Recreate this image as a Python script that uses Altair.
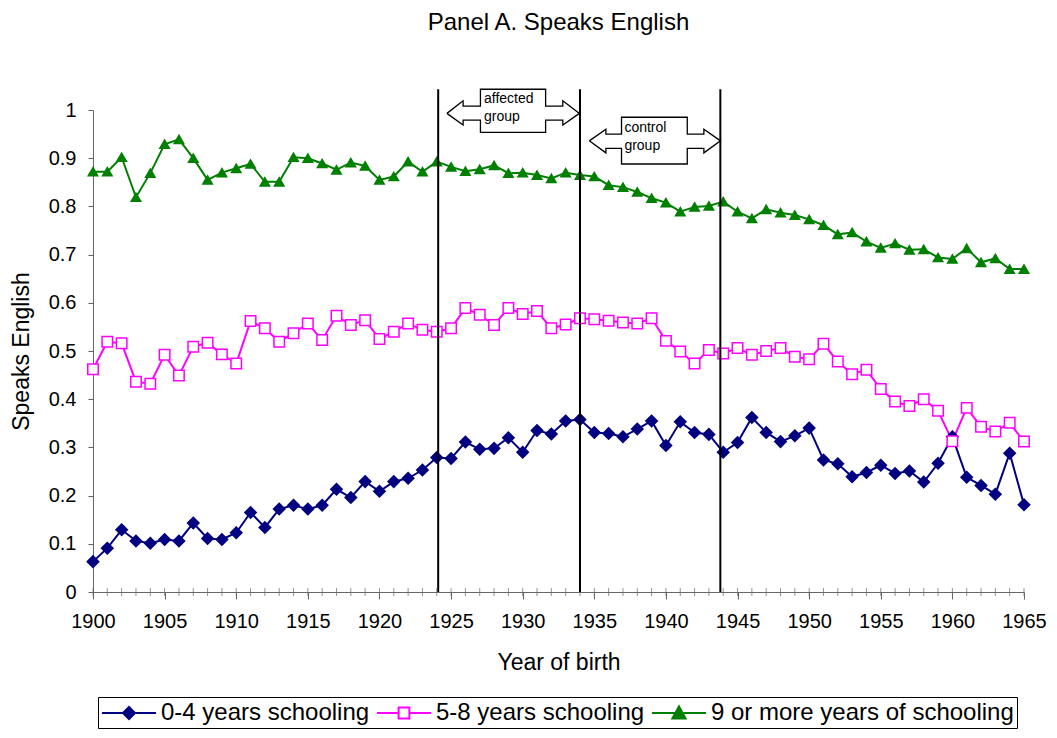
import altair as alt
import pandas as pd

years = list(range(1900, 1966))
series_names = ["0-4 years schooling", "5-8 years schooling", "9 or more years of schooling"]

low = [0.063, 0.091, 0.129, 0.106, 0.101, 0.109, 0.106, 0.143, 0.111, 0.109,
       0.123, 0.165, 0.134, 0.172, 0.180, 0.172, 0.180, 0.213, 0.196, 0.229,
       0.209, 0.229, 0.236, 0.253, 0.279, 0.277, 0.311, 0.296, 0.298, 0.320,
       0.290, 0.335, 0.328, 0.355, 0.358, 0.331, 0.329, 0.322, 0.338, 0.355,
       0.304, 0.353, 0.331, 0.327, 0.290, 0.310, 0.362, 0.331, 0.312, 0.324,
       0.340, 0.274, 0.266, 0.239, 0.248, 0.263, 0.246, 0.251, 0.228, 0.267,
       0.322, 0.238, 0.221, 0.203, 0.288, 0.181]
mid = [0.462, 0.519, 0.516, 0.436, 0.432, 0.492, 0.449, 0.509, 0.517, 0.493,
       0.474, 0.562, 0.547, 0.519, 0.537, 0.557, 0.523, 0.573, 0.554, 0.564,
       0.525, 0.540, 0.557, 0.544, 0.540, 0.547, 0.589, 0.575, 0.554, 0.589,
       0.577, 0.583, 0.547, 0.555, 0.568, 0.566, 0.563, 0.559, 0.557, 0.568,
       0.521, 0.499, 0.474, 0.502, 0.495, 0.506, 0.492, 0.500, 0.506, 0.488,
       0.483, 0.515, 0.478, 0.452, 0.461, 0.421, 0.395, 0.386, 0.400, 0.376,
       0.313, 0.382, 0.343, 0.333, 0.351, 0.312]
high = [0.872, 0.872, 0.902, 0.819, 0.869, 0.929, 0.939, 0.900, 0.855, 0.870,
        0.879, 0.888, 0.851, 0.851, 0.902, 0.900, 0.889, 0.876, 0.891, 0.884,
        0.855, 0.862, 0.893, 0.872, 0.893, 0.882, 0.873, 0.877, 0.885, 0.869,
        0.870, 0.865, 0.858, 0.870, 0.865, 0.862, 0.844, 0.840, 0.830, 0.817,
        0.808, 0.789, 0.799, 0.801, 0.810, 0.789, 0.775, 0.794, 0.787, 0.782,
        0.773, 0.761, 0.742, 0.746, 0.727, 0.714, 0.723, 0.710, 0.711, 0.694,
        0.691, 0.713, 0.684, 0.692, 0.670, 0.670]

x_tick_labels = list(range(1900, 1966, 5))
y_tick_values = [0, 0.1, 0.2, 0.3, 0.4, 0.5, 0.6, 0.7, 0.8, 0.9, 1.0]

line_colors = ["#000080", "#FF00FF", "#008000"]
fill_colors = ["#000080", "#FFFFFF", "#008000"]
point_shapes = ["diamond", "square", "triangle-up"]
point_sizes = [130, 90, 170]
legend_shapes = [
    "M-2.25,0H2.25M-0.5,0L0,-0.5L0.5,0L0,0.5Z",
    "M-2.25,0H-0.45M0.45,0H2.25M-0.45,-0.45H0.45V0.45H-0.45Z",
    "M-2.25,0H2.25M0,-0.55L0.55,0.45H-0.55Z",
]

# period boundaries (vertical lines)
boundary_years = [1924.1, 1934.0, 1943.8]
boundary_top = 1.043

# double-arrow callouts: (label lines, tipL, headL, boxL, boxR, headR, tipR,
#                         center, headTop, shaftTop, shaftBot, headBot, boxTop, boxBot, textX, textYs)
callouts = [
    (["affected", "group"], 1924.71, 1925.84, 1927.05, 1931.6, 1932.8, 1933.96,
     0.993, 1.019, 1.008, 0.979, 0.969, 1.043, 0.9535, 1927.3, [1.023, 0.986]),
    (["control", "group"], 1934.65, 1935.81, 1936.9, 1941.49, 1942.65, 1943.81,
     0.936, 0.960, 0.950, 0.9205, 0.911, 0.985, 0.888, 1937.1, [0.963, 0.925]),
]

df = pd.DataFrame({
    "year": years * 3,
    "value": low + mid + high,
    "series": [series_names[0]] * len(years) + [series_names[1]] * len(years) + [series_names[2]] * len(years),
})

rules_df = pd.DataFrame({"year": boundary_years, "value": [0.0] * 3, "value2": [boundary_top] * 3})

poly_rows = []
text_rows = []
for i, c in enumerate(callouts):
    (lbls, tL, hL, bL, bR, hR, tR, cen, hT, sT, sB, hB, bT, bB, tx, tys) = c
    verts = [(tL, cen), (hL, hT), (hL, sT), (bL, sT), (bL, bT), (bR, bT), (bR, sT), (hR, sT),
             (hR, hT), (tR, cen), (hR, hB), (hR, sB), (bR, sB), (bR, bB), (bL, bB), (bL, sB),
             (hL, sB), (hL, hB), (tL, cen)]
    for k, (vx, vy) in enumerate(verts):
        poly_rows.append({"year": vx, "value": vy, "ord": k, "shape": i})
    for lbl, ty in zip(lbls, tys):
        text_rows.append({"year": tx, "value": ty, "label": lbl})
poly_df = pd.DataFrame(poly_rows)
text_df = pd.DataFrame(text_rows)
minor_df = pd.DataFrame({"year": years, "value": [0.0] * len(years)})

x_enc = alt.X("year:Q",
              scale=alt.Scale(domain=[1900, 1965], nice=False, zero=False),
              axis=alt.Axis(values=x_tick_labels, format="d", title="Year of birth",
                            tickSize=7, labelPadding=12, titlePadding=20, labelFlush=False,
                            labelFontSize=20, titleFontSize=23, grid=False,
                            domainColor="#666", tickColor="#666", labelColor="#000",
                            titleColor="#000", titleFontWeight="normal"))
y_enc = alt.Y("value:Q",
              scale=alt.Scale(domain=[0, 1], nice=False, zero=False),
              axis=alt.Axis(values=y_tick_values, format=".1~f", title="Speaks English",
                            tickSize=5, labelPadding=12, titlePadding=15, labelFlush=False,
                            labelFontSize=20, titleFontSize=23, grid=False,
                            domainColor="#666", tickColor="#666", labelColor="#000",
                            titleColor="#000", titleFontWeight="normal"))

base = alt.Chart(df)

lines = base.mark_line(strokeWidth=2).encode(
    x=x_enc, y=y_enc,
    color=alt.Color("series:N", scale=alt.Scale(domain=series_names, range=line_colors), legend=None),
)

points = base.mark_point(opacity=1, strokeWidth=1.5).encode(
    x="year:Q", y="value:Q",
    shape=alt.Shape("series:N", scale=alt.Scale(domain=series_names, range=point_shapes), legend=None),
    fill=alt.Fill("series:N", scale=alt.Scale(domain=series_names, range=fill_colors), legend=None),
    stroke=alt.Stroke("series:N", scale=alt.Scale(domain=series_names, range=line_colors), legend=None),
    size=alt.Size("series:N", scale=alt.Scale(domain=series_names, range=point_sizes), legend=None),
)

minor_ticks = alt.Chart(minor_df).mark_tick(orient="vertical", size=8, thickness=1, color="#666").encode(
    x="year:Q", y="value:Q")

rules = alt.Chart(rules_df).mark_rule(color="black", strokeWidth=2).encode(
    x="year:Q", y="value:Q", y2="value2:Q")

arrows = alt.Chart(poly_df).mark_line(color="black", strokeWidth=1.3).encode(
    x="year:Q", y="value:Q", order="ord:Q", detail="shape:N")

labels = alt.Chart(text_df).mark_text(align="left", baseline="middle", fontSize=14, color="black").encode(
    x="year:Q", y="value:Q", text="label:N")

leg = alt.Legend(title=None, orient="none", legendX=5, legendY=587, direction="horizontal",
                 columns=3, strokeColor="black", padding=3, labelFontSize=24, labelColor="#000",
                 labelLimit=500, symbolSize=576, symbolOffset=15, labelOffset=19, columnPadding=3,
                 symbolStrokeWidth=2)

legend_layer = base.transform_filter("datum.year < 0").mark_point(opacity=1, strokeWidth=2).encode(
    x="year:Q", y="value:Q",
    shape=alt.Shape("series:N", scale=alt.Scale(domain=series_names, range=legend_shapes), legend=leg),
    fill=alt.Fill("series:N", scale=alt.Scale(domain=series_names, range=fill_colors), legend=leg),
    stroke=alt.Stroke("series:N", scale=alt.Scale(domain=series_names, range=line_colors), legend=leg),
)

chart = alt.layer(lines, points, minor_ticks, rules, arrows, labels, legend_layer).resolve_scale(
    color="independent", fill="independent", stroke="independent", shape="independent", size="independent"
).properties(
    width=931, height=482, padding={"left": 2, "top": 2, "right": 0, "bottom": 0},
    title=alt.TitleParams("Panel A. Speaks English", fontSize=24, fontWeight="normal",
                          anchor="middle", offset=52, color="#000"),
).configure(font="Liberation Sans").configure_view(stroke=None)

chart.save("out.html", embed_options={"renderer": "svg", "actions": False})
